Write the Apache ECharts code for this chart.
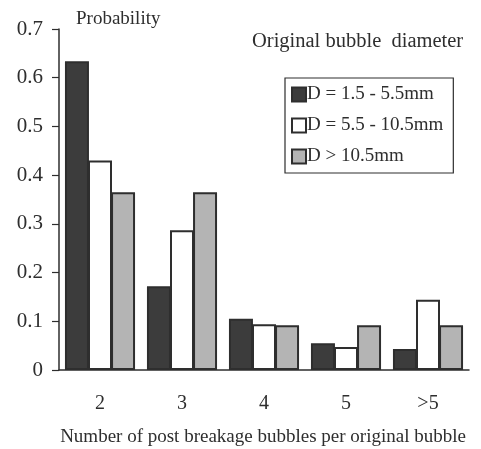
<!DOCTYPE html>
<html><head><meta charset="utf-8">
<script src="https://cdn.jsdelivr.net/npm/echarts@6/dist/echarts.min.js"></script>
<style>html,body{margin:0;padding:0;background:#fff}#c{width:481px;height:449px}</style>
</head><body><div id="c"></div>
<script>
const categories = ['2', '3', '4', '5', '>5'];
const seriesNames = ['D = 1.5 - 5.5mm', 'D = 5.5 - 10.5mm', 'D > 10.5mm'];
const small = [0.634, 0.172, 0.105, 0.055, 0.043];
const medium = [0.430, 0.287, 0.094, 0.047, 0.144];
const large = [0.365, 0.365, 0.092, 0.092, 0.092];
const yTicks = [0, 0.1, 0.2, 0.3, 0.4, 0.5, 0.6, 0.7];

const font = '"Liberation Serif", "DejaVu Serif", serif';
const ink = '#2e2e2e';
const fills = ['#3c3c3c', '#ffffff', '#b4b4b4'];
const chart = echarts.init(document.getElementById('c'));
const mk = (name, data, i) => ({
  name, type: 'bar', data, barWidth: 24, barGap: '-4%',
  itemStyle: { color: fills[i], borderColor: ink, borderWidth: 2 }
});
chart.setOption({
  animation: false,
  textStyle: { fontFamily: font },
  grid: { left: 59, right: 12, top: 29, bottom: 79 },
  title: [
    { text: 'Probability', left: 76, top: 10, padding: 0, textStyle: { fontFamily: font, fontSize: 19, fontWeight: 'normal', color: ink } },
    { text: 'Original bubble  diameter', left: 252, top: 31, padding: 0, textStyle: { fontFamily: font, fontSize: 20.5, fontWeight: 'normal', color: ink } },
    { text: 'Number of post breakage bubbles per original bubble', left: 263, top: 428, padding: 0, textAlign: 'center', textStyle: { fontFamily: font, fontSize: 19, fontWeight: 'normal', color: ink } }
  ],
  legend: {
    orient: 'vertical', left: 285, top: 78, width: 170,
    padding: [7, 10, 7, 6], itemGap: 12, itemWidth: 14, itemHeight: 14,
    borderColor: ink, borderWidth: 1.2,
    textStyle: { fontFamily: font, fontSize: 19, color: ink, padding: [0, 0, 0, -4] },
    data: seriesNames.map((n, i) => ({ name: n, icon: 'rect', itemStyle: { color: fills[i], borderColor: ink, borderWidth: 2 } }))
  },
  xAxis: [{
    type: 'category', data: categories,
    axisLine: { lineStyle: { color: ink, width: 1.5 } },
    axisTick: { length: 6, lineStyle: { color: ink, width: 1.2 } },
    axisLabel: { fontFamily: font, fontSize: 20, color: ink, margin: 24 }
  }, {
    type: 'category', data: categories, position: 'bottom',
    axisLine: { show: false },
    axisTick: { inside: true, length: 6, lineStyle: { color: ink, width: 1.2 } },
    axisLabel: { show: false }
  }],
  yAxis: {
    type: 'value', min: 0, max: 0.7, interval: 0.1,
    splitLine: { show: false },
    axisLine: { show: true, lineStyle: { color: ink, width: 1.5 } },
    axisTick: { show: true, length: 7, lineStyle: { color: ink, width: 1.2 } },
    axisLabel: { fontFamily: font, fontSize: 21, color: ink, margin: 16,
      formatter: v => { const t = yTicks.find(x => Math.abs(x - v) < 1e-9); return t === 0 ? '0' : String(t); } }
  },
  series: [mk(seriesNames[0], small, 0), mk(seriesNames[1], medium, 1), mk(seriesNames[2], large, 2)]
});
</script></body></html>
